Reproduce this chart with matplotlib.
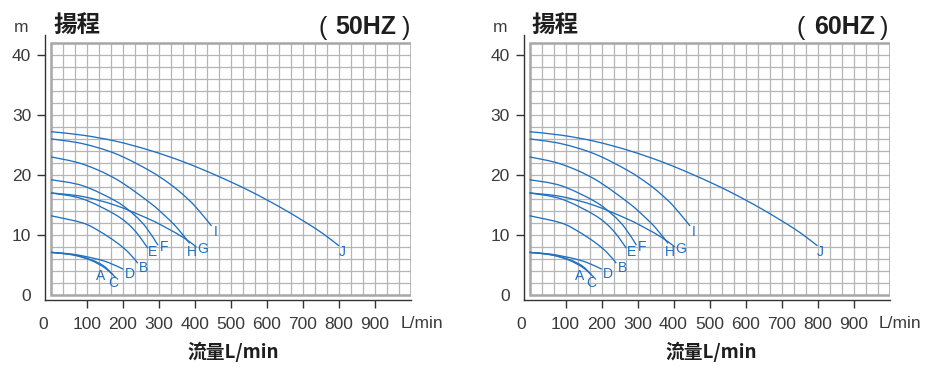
import numpy as np
import matplotlib
matplotlib.use("Agg")
import matplotlib.pyplot as plt
from matplotlib.patches import Rectangle, PathPatch
from matplotlib.path import Path
from matplotlib.transforms import ScaledTranslation

# ---------------- data ----------------
panel_freqs = ["50HZ", "60HZ"]
title_text = "揚程"
xlabel_text = "流量L/min"
unit_x = "L/min"
unit_y = "m"

x_ticks = [0, 100, 200, 300, 400, 500, 600, 700, 800, 900]
y_ticks = [0, 10, 20, 30, 40]

curve_names = ["J", "I", "H", "G", "F", "E", "B", "D", "A", "C"]
J_q = [0, 90, 181, 274, 367, 460, 553, 646, 739, 800]
J_h = [27.2, 26.6, 25.6, 24.1, 22.2, 19.9, 17.3, 14.3, 10.9, 8.2]
I_q = [0, 88, 181, 274, 330, 367, 400, 446]
I_h = [26.0, 25.2, 23.5, 20.7, 18.5, 16.7, 14.8, 11.5]
H_q = [0, 88, 181, 274, 320, 350, 385]
H_h = [23.0, 21.8, 19.3, 15.4, 13.0, 11.2, 8.6]
G_q = [0, 88, 181, 274, 320, 367, 404]
G_h = [17.0, 16.4, 14.9, 12.6, 11.2, 9.6, 8.0]
F_q = [0, 88, 181, 232, 265, 297]
F_h = [19.2, 18.2, 15.6, 13.3, 11.2, 8.3]
E_q = [0, 88, 181, 230, 269]
E_h = [17.0, 16.0, 13.3, 10.9, 7.8]
B_q = [0, 88, 135, 181, 215, 241]
B_h = [13.2, 12.0, 10.6, 8.8, 7.1, 5.3]
D_q = [0, 60, 120, 160, 201]
D_h = [7.1, 6.8, 6.1, 5.4, 4.3]
A_q = [0, 60, 110, 145, 172]
A_h = [7.1, 6.7, 5.9, 4.9, 3.4]
C_q = [0, 60, 110, 150, 180]
C_h = [7.1, 6.7, 5.8, 4.5, 2.9]

curves_q = [J_q, I_q, H_q, G_q, F_q, E_q, B_q, D_q, A_q, C_q]
curves_h = [J_h, I_h, H_h, G_h, F_h, E_h, B_h, D_h, A_h, C_h]

# label offsets from curve end (pixels) - styling
label_offsets = {"J": (3, -6), "I": (4, -6), "H": (2, -9), "G": (6, -2),
                 "F": (6, -2), "E": (5, -4), "B": (6, -4.5), "D": (6.5, -5),
                 "A": (-12, -1), "C": (-3, -5)}

# ---------------- style ----------------
W, Hf = 930, 371
BLUE = "#2070c0"
GRID = "#b5b5b5"
BORDER = "#a8a8a8"
DARK = "#333333"
TXT = "#3a3a3a"
LAT = ["Liberation Sans", "DejaVu Sans"]
CJK = ["Noto Sans CJK TC", "Noto Sans CJK JP", "DejaVu Sans"]

fig = plt.figure(figsize=(W / 100, Hf / 100), dpi=100)


def ftext(px, py, s, **kw):
    fig.text(px / W, 1 - py / Hf, s, **kw)


def smooth_path(q, h):
    """Bezier (Catmull-Rom) path through the read points, drawn by matplotlib."""
    P = np.column_stack([q, h]).astype(float)
    n = len(P)
    verts = [P[0]]
    codes = [Path.MOVETO]
    for i in range(n - 1):
        p0 = P[i - 1] if i > 0 else P[i]
        p1, p2 = P[i], P[i + 1]
        p3 = P[i + 2] if i + 2 < n else P[i + 1]
        c1 = p1 + (p2 - p0) / 6.0
        c2 = p2 - (p3 - p1) / 6.0
        verts += [c1, c2, p2]
        codes += [Path.CURVE4] * 3
    return Path(verts, codes)


panel_left = [45, 523.5]
for k, (left, freq) in enumerate(zip(panel_left, panel_freqs)):
    ax = fig.add_axes([left / W, 71 / Hf, 366 / W, 265 / Hf])
    ax.set_xlim(-16.7, 1000)
    ax.set_ylim(-0.83, 43.3)
    for s in ["top", "right"]:
        ax.spines[s].set_visible(False)
    for s in ["left", "bottom"]:
        ax.spines[s].set_color(DARK)
        ax.spines[s].set_linewidth(1.0)

    # grid
    gx = np.arange(0, 1000.1, 100 / 3)
    gy = np.arange(0, 42.1, 2)
    ax.vlines(gx, 0, 42, color=GRID, lw=0.9, zorder=1)
    ax.hlines(gy, 0, 1000, color=GRID, lw=0.9, zorder=1)
    ax.add_patch(Rectangle((0, 0), 1000, 42, fill=False, ec=BORDER, lw=1.8, zorder=2))

    # curves
    for name, q, h in zip(curve_names, curves_q, curves_h):
        ax.add_patch(PathPatch(smooth_path(q, h), fill=False, ec=BLUE, lw=0.95,
                               zorder=3, capstyle="butt"))
        dx, dy = label_offsets[name]
        ax.annotate(name, (q[-1], h[-1]), xytext=(dx, dy), textcoords="offset pixels",
                    ha="center", va="center", color=BLUE, fontsize=10,
                    family=LAT, zorder=4)

    # ticks
    ax.set_xticks(x_ticks)
    ax.set_xticklabels([str(v) for v in x_ticks])
    ax.set_yticks(y_ticks)
    ax.set_yticklabels([str(v) for v in y_ticks])
    ax.tick_params(axis="both", direction="out", length=6, width=1.0, color=DARK,
                   labelsize=12.5, labelcolor=TXT)
    ax.tick_params(axis="x", pad=6)
    ax.tick_params(axis="y", pad=4)
    for lab in ax.get_xticklabels() + ax.get_yticklabels():
        lab.set_family(LAT)
    xt = ax.xaxis.get_major_ticks()
    xt[0].tick1line.set_visible(False)
    yt = ax.yaxis.get_major_ticks()
    yt[0].tick1line.set_visible(False)
    lab0 = ax.get_xticklabels()[0]
    lab0.set_transform(lab0.get_transform() + ScaledTranslation(-8 / 100, 0, fig.dpi_scale_trans))

    off = left - 45
    ftext(400.5 + off, 324, unit_x, ha="left", va="center", fontsize=12.5,
          color=TXT, family=LAT)
    ftext(21.5 + off, 27, unit_y, ha="center", va="center", fontsize=12.5,
          color=TXT, family=LAT)
    ftext(53 + off, 25, title_text, ha="left", va="center", fontsize=17,
          fontweight="bold", color="#1e1e1e", family=CJK)
    ftext(322.5 + off, 28, "(", ha="center", va="center", fontsize=18,
          color="#1e1e1e", family=LAT)
    ftext(366 + off, 27, freq, ha="center", va="center", fontsize=18,
          fontweight="bold", color="#1e1e1e", family=LAT)
    ftext(405.5 + off, 28, ")", ha="center", va="center", fontsize=18,
          color="#1e1e1e", family=LAT)
    ftext(233 + off, 352, xlabel_text, ha="center", va="center", fontsize=13.5,
          fontweight="bold", color="#1e1e1e", family=CJK)

fig.savefig("out.png", dpi=100)
